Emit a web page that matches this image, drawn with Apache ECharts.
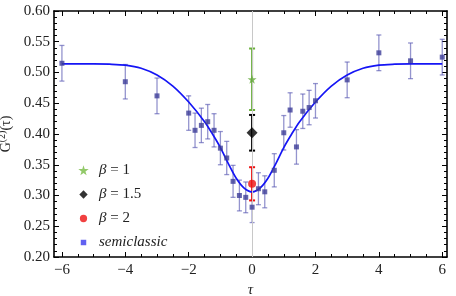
<!DOCTYPE html>
<html>
<head>
<meta charset="utf-8">
<script src="https://cdn.jsdelivr.net/npm/echarts@6/dist/echarts.min.js"></script>
<style>html,body{margin:0;padding:0;background:#fff}#c{width:456px;height:296px}</style>
</head>
<body>
<div id="c"></div>
<script>
// semiclassic data points
const tau = [-6, -4, -3, -2, -1.8, -1.6, -1.4, -1.2, -1.0, -0.8, -0.6, -0.4, -0.2, 0, 0.2, 0.4, 0.7, 1.0, 1.2, 1.4, 1.6, 1.8, 2.0, 3, 4, 5, 6];
const g2 = [0.515, 0.485, 0.462, 0.434, 0.406, 0.414, 0.420, 0.406, 0.377, 0.361, 0.323, 0.300, 0.297, 0.281, 0.311, 0.306, 0.341, 0.402, 0.439, 0.379, 0.437, 0.443, 0.454, 0.488, 0.532, 0.519, 0.525];
const g2Err = [0.029, 0.028, 0.029, 0.028, 0.028, 0.028, 0.028, 0.027, 0.027, 0.027, 0.026, 0.025, 0.025, 0.025, 0.026, 0.026, 0.027, 0.028, 0.028, 0.028, 0.028, 0.028, 0.028, 0.029, 0.029, 0.029, 0.029];
// fitted curve
const curveTau = [-6, -5.5, -5, -4.5, -4, -3.5, -3, -2.5, -2, -1.5, -1.25, -1, -0.75, -0.5, -0.25, 0, 0.25, 0.5, 0.75, 1, 1.25, 1.5, 2, 2.5, 3, 3.5, 4, 4.5, 5, 5.5, 6];
const curveG2 = [0.514, 0.514, 0.514, 0.5135, 0.512, 0.507, 0.496, 0.478, 0.452, 0.420, 0.400, 0.378, 0.352, 0.328, 0.312, 0.306, 0.312, 0.328, 0.352, 0.378, 0.400, 0.420, 0.452, 0.478, 0.496, 0.507, 0.512, 0.5135, 0.514, 0.514, 0.514];
// beta points at tau = 0
const betaNames = ['β = 1', 'β = 1.5', 'β = 2'];
const betaTau = [0, 0, 0];
const betaG2 = [0.489, 0.402, 0.319];
const betaErr = [0.050, 0.029, 0.027];
// ticks
const xMajor = [-6, -4, -2, 0, 2, 4, 6];
const xMinor = [-6, -5.5, -5, -4.5, -4, -3.5, -3, -2.5, -2, -1.5, -1, -0.5, 0, 0.5, 1, 1.5, 2, 2.5, 3, 3.5, 4, 4.5, 5, 5.5, 6];

const FONT = 'Liberation Serif';
const starPath = 'path://M50,0 L61,35 L98,35 L68,57 L79,91 L50,70 L21,91 L32,57 L2,35 L39,35 Z';
const legStar = 'path://M-10,-12 M110,108 M50,0 L61,35 L98,35 L68,57 L79,91 L50,70 L21,91 L32,57 L2,35 L39,35 Z';
const legDiamond = 'path://M0,0 M100,100 M50,18 L82,50 L50,82 L18,50 Z';
const legCircle = 'path://M0,0 M100,100 M50,22 A28,28 0 1,1 49.9,22 Z';
const legRect = 'path://M0,0 M100,100 M29,29 L71,29 L71,71 L29,71 Z';

const betaColors = ['#66aa3c', '#000000', '#ee1111'];
const betaBarColors = ['#6ab03a', '#000000', '#ee1111'];
const betaSymbols = [starPath, 'diamond', 'circle'];
const betaSizes = [9, 11, 8];

function errSeries(name, xs, ys, es, color, width, cap) {
  return {
    type: 'custom', name: name, silent: true, z: 3,
    data: xs.map((x, i) => [x, ys[i] - es[i], ys[i] + es[i]]),
    renderItem: function (params, api) {
      const x = api.value(0), lo = api.value(1), hi = api.value(2);
      const a = api.coord([x, hi]), b = api.coord([x, lo]);
      const st = { stroke: color, lineWidth: width };
      return { type: 'group', children: [
        { type: 'line', shape: { x1: a[0], y1: a[1], x2: b[0], y2: b[1] }, style: st },
        { type: 'line', shape: { x1: a[0] - cap, y1: a[1], x2: a[0] + cap, y2: a[1] }, style: st },
        { type: 'line', shape: { x1: b[0] - cap, y1: b[1], x2: b[0] + cap, y2: b[1] }, style: st }
      ] };
    }
  };
}

const xBase = { type: 'value', min: -6.25, max: 6.15, splitLine: { show: false } };
const lblStyle = { fontFamily: FONT, fontSize: 15, color: '#222' };

const series = [];
series.push({
  type: 'line', name: 'zeroLine', data: [], z: 1, silent: true,
  markLine: { silent: true, symbol: 'none', label: { show: false },
    lineStyle: { color: '#c8c8c8', width: 1, type: 'solid' }, data: [{ xAxis: 0 }] }
});
series.push({
  type: 'line', name: 'curve', data: curveTau.map((x, i) => [x, curveG2[i]]),
  smooth: 0.3, showSymbol: false, lineStyle: { color: '#1515f5', width: 1.7 }, z: 4
});
series.push(errSeries('semiErr', tau, g2, g2Err, 'rgba(90,90,180,0.65)', 1.3, 2.5));
series.push({
  type: 'scatter', name: 'semiclassic', data: tau.map((x, i) => [x, g2[i]]),
  symbol: 'rect', symbolSize: 5, itemStyle: { color: '#3d3d99' }, z: 5
});
for (let k = 0; k < 3; k++) {
  series.push(errSeries('betaErr' + k, [betaTau[k]], [betaG2[k]], [betaErr[k]], betaBarColors[k], 2, 3));
  series.push({
    type: 'scatter', name: betaNames[k], data: [[betaTau[k], betaG2[k]]],
    symbol: betaSymbols[k], symbolSize: betaSizes[k], itemStyle: { color: betaColors[k] }, z: 6
  });
}

const option = {
  animation: false,
  backgroundColor: '#fff',
  grid: { left: 54, right: 9, top: 11, bottom: 39, containLabel: false, outerBoundsMode: 'none' },
  legend: {
    orient: 'vertical', left: 72, top: 158, itemWidth: 13, itemHeight: 13, itemGap: 9,
    selectedMode: false,
    data: [
      { name: 'β = 1', icon: legStar, itemStyle: { color: '#77bb44' } },
      { name: 'β = 1.5', icon: legDiamond, itemStyle: { color: '#000' } },
      { name: 'β = 2', icon: legCircle, itemStyle: { color: '#ee1111' } },
      { name: 'semiclassic', icon: legRect, itemStyle: { color: '#3a3aee' } }
    ],
    formatter: function (name) {
      if (name === 'semiclassic') return '{i|semiclassic}';
      return '{i|β}{r|' + name.slice(1) + '}';
    },
    textStyle: { padding: [0, 0, 0, 4], rich: {
      i: { fontFamily: FONT, fontSize: 15, fontStyle: 'italic', color: '#222' },
      r: { fontFamily: FONT, fontSize: 15, color: '#222' }
    } }
  },
  xAxis: [
    Object.assign({}, xBase, { position: 'bottom',
      name: 'τ', nameLocation: 'middle', nameGap: 20,
      nameTextStyle: { fontFamily: FONT, fontSize: 15, fontStyle: 'italic', color: '#222' },
      axisLine: { onZero: false, lineStyle: { color: '#000', width: 1.6 } },
      axisTick: { inside: true, length: 5, customValues: xMajor, lineStyle: { color: '#000', width: 1 } },
      axisLabel: Object.assign({ customValues: xMajor, margin: 6, formatter: v => String(v).replace('-', '−') }, lblStyle) }),
    Object.assign({}, xBase, { position: 'bottom',
      axisLine: { show: false, onZero: false },
      axisTick: { inside: true, length: 3, customValues: xMinor, lineStyle: { color: '#000', width: 1 } },
      axisLabel: { show: false } }),
    Object.assign({}, xBase, { position: 'top',
      axisLine: { onZero: false, lineStyle: { color: '#000', width: 1.6 } },
      axisTick: { inside: true, length: 5, customValues: xMajor, lineStyle: { color: '#000', width: 1 } },
      axisLabel: { show: false } }),
    Object.assign({}, xBase, { position: 'top',
      axisLine: { show: false, onZero: false },
      axisTick: { inside: true, length: 3, customValues: xMinor, lineStyle: { color: '#000', width: 1 } },
      axisLabel: { show: false } })
  ],
  yAxis: [
    { type: 'value', position: 'left', min: 0.2, max: 0.6, interval: 0.05,
      name: '{a|G}{s|(2)}{a|(τ)}', nameLocation: 'middle', nameGap: 38, nameRotate: 90,
      nameTextStyle: { rich: {
        a: { fontFamily: FONT, fontSize: 14, color: '#222' },
        s: { fontFamily: FONT, fontSize: 10, color: '#222', verticalAlign: 'top', padding: [0, 0, 7, 0] }
      } },
      splitLine: { show: false },
      axisLine: { show: true, onZero: false, lineStyle: { color: '#000', width: 1.6 } },
      axisTick: { inside: true, length: 5, lineStyle: { color: '#000', width: 1 } },
      minorTick: { show: true, splitNumber: 5, length: 3, lineStyle: { color: '#000', width: 1 } },
      axisLabel: Object.assign({ margin: 4, formatter: v => v.toFixed(2) }, lblStyle) },
    { type: 'value', position: 'right', min: 0.2, max: 0.6, interval: 0.05,
      splitLine: { show: false },
      axisLine: { show: true, onZero: false, lineStyle: { color: '#000', width: 1.6 } },
      axisTick: { inside: true, length: 5, lineStyle: { color: '#000', width: 1 } },
      minorTick: { show: true, splitNumber: 5, length: 3, lineStyle: { color: '#000', width: 1 } },
      axisLabel: { show: false } }
  ],
  series: series
};
const chart = echarts.init(document.getElementById('c'), null, { renderer: 'canvas' });
chart.setOption(option);
</script>
</body>
</html>
